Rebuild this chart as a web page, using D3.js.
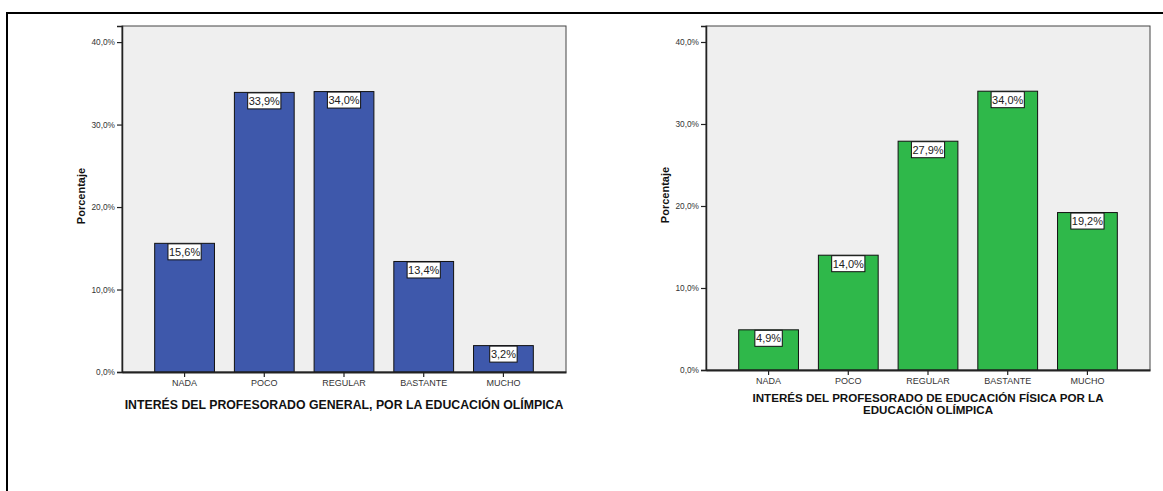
<!DOCTYPE html>
<html>
<head>
<meta charset="utf-8">
<script src="https://cdn.jsdelivr.net/npm/d3@7"></script>
<style>
  html, body { margin: 0; padding: 0; background: #ffffff; }
  svg { display: block; }
</style>
</head>
<body>
<svg id="chart" width="1163" height="491"></svg>
<script>
const categories = ["NADA", "POCO", "REGULAR", "BASTANTE", "MUCHO"];
const generalValues = [15.6, 33.9, 34.0, 13.4, 3.2];
const fisicaValues = [4.9, 14.0, 27.9, 34.0, 19.2];
const yTicks = [0, 10, 20, 30, 40];
const yAxisTitle = "Porcentaje";
const generalTitle = ["INTERÉS DEL PROFESORADO GENERAL, POR LA EDUCACIÓN OLÍMPICA"];
const fisicaTitle = ["INTERÉS DEL PROFESORADO DE EDUCACIÓN FÍSICA POR LA", "EDUCACIÓN OLÍMPICA"];

const locale = d3.formatLocale({decimal: ",", thousands: ".", grouping: [3], currency: ["", "€"]});
const fmt = locale.format(".1f");

const svg = d3.select("#chart");
const FONT = "'Liberation Sans', Arial, sans-serif";

// outer frame
svg.append("line").attr("x1", 7).attr("x2", 1163).attr("y1", 13).attr("y2", 13)
  .attr("stroke", "#000").attr("stroke-width", 2);
svg.append("line").attr("x1", 7).attr("x2", 7).attr("y1", 12).attr("y2", 491)
  .attr("stroke", "#000").attr("stroke-width", 2);

function drawChart(cfg) {
  const g = svg.append("g");
  const x = d3.scaleBand().domain(categories).range([cfg.left, cfg.right])
    .paddingInner(0.25).paddingOuter(0.41);
  const y = d3.scaleLinear().domain([0, 41.95]).range([cfg.bottom, cfg.top]);

  // plot background
  g.append("rect").attr("x", cfg.left).attr("y", cfg.top)
    .attr("width", cfg.right - cfg.left).attr("height", cfg.bottom - cfg.top)
    .attr("fill", "#efefef").attr("stroke", "#444").attr("stroke-width", 1);

  // bars
  g.selectAll("rect.bar").data(cfg.values).join("rect").attr("class", "bar")
    .attr("x", (d, i) => x(categories[i]))
    .attr("y", d => y(d))
    .attr("width", x.bandwidth())
    .attr("height", d => y(0) - y(d))
    .attr("fill", cfg.color).attr("stroke", "#111").attr("stroke-width", 1);

  // y axis
  const yAxis = d3.axisLeft(y).tickValues(yTicks).tickSize(5).tickPadding(2)
    .tickFormat(d => fmt(d) + "%");
  const ya = g.append("g").attr("transform", `translate(${cfg.left},0)`).call(yAxis);
  ya.select(".domain").attr("stroke", "#222").attr("stroke-width", 1.5);
  ya.selectAll(".tick line").attr("stroke", "#222").attr("stroke-width", 1.2);
  ya.selectAll(".tick text").attr("font-family", FONT).attr("font-size", 8.3).attr("fill", "#333");

  // x axis
  const xAxis = d3.axisBottom(x).tickSize(5).tickPadding(3).tickSizeOuter(0);
  const xa = g.append("g").attr("transform", `translate(0,${cfg.bottom})`).call(xAxis);
  xa.select(".domain").attr("stroke", "#222").attr("stroke-width", 2);
  xa.selectAll(".tick line").attr("stroke", "#222").attr("stroke-width", 1.2);
  xa.selectAll(".tick text").attr("font-family", FONT).attr("font-size", 9).attr("fill", "#333");

  // value labels
  const lbl = g.selectAll("g.lbl").data(cfg.values).join("g").attr("class", "lbl")
    .attr("transform", (d, i) => `translate(${x(categories[i]) + x.bandwidth() / 2},${y(d)})`);
  lbl.append("rect").attr("x", d => -(fmt(d).length * 5.8 + 10) / 2)
    .attr("y", 0.5).attr("width", d => fmt(d).length * 5.8 + 10).attr("height", 16)
    .attr("fill", "#fff").attr("stroke", "#111").attr("stroke-width", 1);
  lbl.append("text").attr("y", 12.5).attr("text-anchor", "middle")
    .attr("font-family", FONT).attr("font-size", 11).attr("fill", "#222")
    .text(d => fmt(d) + "%");

  // y title
  const cy = (cfg.top + cfg.bottom) / 2 - 3;
  g.append("text").attr("transform", `translate(${cfg.left - 37},${cy}) rotate(-90)`)
    .attr("text-anchor", "middle").attr("font-family", FONT).attr("font-weight", "bold")
    .attr("font-size", 11).attr("fill", "#111").text(yAxisTitle);

  // x title
  const cx = (cfg.left + cfg.right) / 2;
  g.selectAll("text.xt").data(cfg.title).join("text").attr("class", "xt")
    .attr("x", cx).attr("y", (d, i) => cfg.titleY + i * 12)
    .attr("text-anchor", "middle").attr("font-family", FONT).attr("font-weight", "bold")
    .attr("font-size", cfg.titleSize).attr("fill", "#111").text(d => d);
}

drawChart({left: 122, right: 566, top: 26, bottom: 372, values: generalValues,
  color: "#3e58ab", title: generalTitle, titleY: 409, titleSize: 12.3});
drawChart({left: 706, right: 1150, top: 26, bottom: 370, values: fisicaValues,
  color: "#2fb84a", title: fisicaTitle, titleY: 402, titleSize: 11.6});
</script>
</body>
</html>
